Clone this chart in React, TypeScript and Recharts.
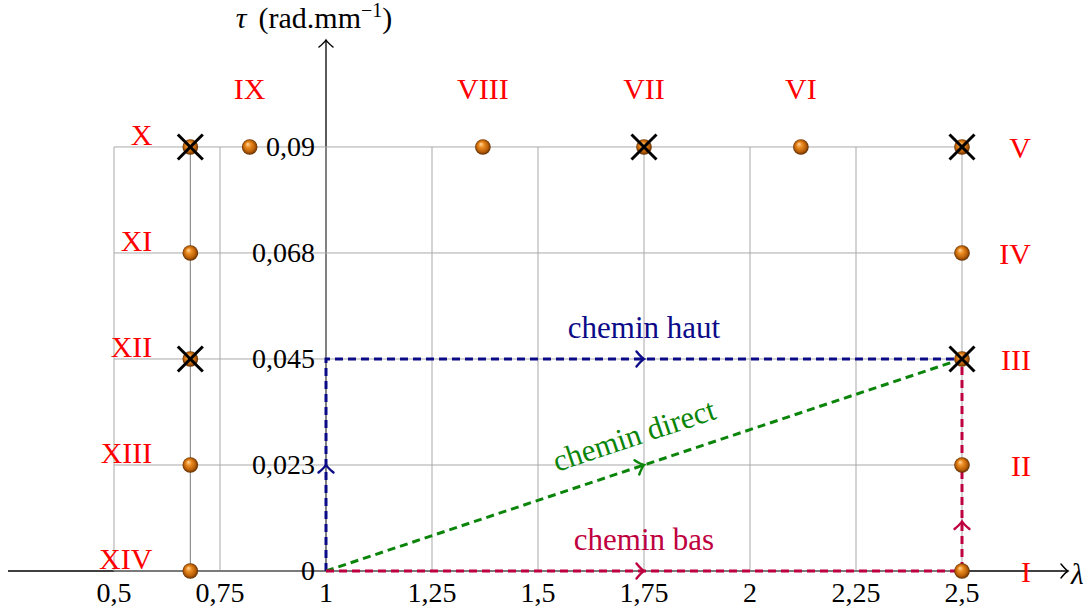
import React from 'react';
import { ComposedChart, XAxis, YAxis, Line, Scatter, ReferenceLine } from 'recharts';

// ---------- layout ----------
const W = 1091;
const H = 610;
const Y_AXIS_W = 8;
const MARGIN = { top: 40, right: 23, bottom: 0, left: 0 };
const X_AXIS_H = 39;
const X_DOMAIN: [number, number] = [0.25, 2.75];
const Y_DOMAIN: [number, number] = [0, 0.1127];
const PLOT_LEFT = MARGIN.left + Y_AXIS_W;
const PLOT_W = W - PLOT_LEFT - MARGIN.right;
const PLOT_H = H - MARGIN.top - MARGIN.bottom - X_AXIS_H;
const SX = PLOT_W / (X_DOMAIN[1] - X_DOMAIN[0]);
const SY = PLOT_H / (Y_DOMAIN[1] - Y_DOMAIN[0]);
const ORIGIN_PX = PLOT_LEFT + (1 - X_DOMAIN[0]) * SX;
const PLOT_BOTTOM = MARGIN.top + PLOT_H;

const FONT = '"Liberation Serif", "Times New Roman", serif';
const BLUE = '#0b0b88';
const GREEN = '#0a850a';
const PURPLE = '#bf0040';
const RED = '#ff0000';

// ---------- ticks ----------
const xTicks = [0.5, 0.75, 1, 1.25, 1.5, 1.75, 2, 2.25, 2.5];
const xTickLabels = ['0,5', '0,75', '1', '1,25', '1,5', '1,75', '2', '2,25', '2,5'];
const yTicks = [0, 0.0225, 0.045, 0.0675, 0.09];
const yTickLabels = ['0', '0,023', '0,045', '0,068', '0,09'];

// ---------- grid ----------
const gridLambda = [0.5, 0.75, 1, 1.25, 1.5, 1.75, 2, 2.25, 2.5];
const gridTau = [0, 0.0225, 0.045, 0.0675, 0.09];
const gridLambdaRange = [0.5, 2.5];
const gridTauRange = [0, 0.09];
const extraColumnLambda = 0.68;

// ---------- points ----------
const pointNames = ['I', 'II', 'III', 'IV', 'V', 'VI', 'VII', 'VIII', 'IX', 'X', 'XI', 'XII', 'XIII', 'XIV'];
const pointLambda = [2.5, 2.5, 2.5, 2.5, 2.5, 2.12, 1.75, 1.37, 0.82, 0.68, 0.68, 0.68, 0.68, 0.68];
const pointTau = [0, 0.0225, 0.045, 0.0675, 0.09, 0.09, 0.09, 0.09, 0.09, 0.09, 0.0675, 0.045, 0.0225, 0];
const crossedNames = ['III', 'V', 'VII', 'X', 'XII'];

// ---------- paths ----------
const hautLambda = [1, 1, 2.5];
const hautTau = [0, 0.045, 0.045];
const directLambda = [1, 2.5];
const directTau = [0, 0.045];
const basLambda = [1, 2.5, 2.5];
const basTau = [0, 0, 0.045];

const hautArrows = [
  { x: 1, y: 0.0225, dx: 0, dy: 1 },
  { x: 1.75, y: 0.045, dx: 1, dy: 0 },
];
const directArrows = [{ x: 1.75, y: 0.0225, dx: 1.5, dy: 0.045 }];
const basArrows = [
  { x: 1.75, y: 0, dx: 1, dy: 0 },
  { x: 2.5, y: 0.0105, dx: 0, dy: 1 },
];

const hautLabel = [{ x: 1.75, y: 0.045, dx: 1, dy: 0, text: 'chemin haut' }];
const directLabel = [{ x: 1.75, y: 0.0225, dx: 1.5, dy: 0.045, text: 'chemin direct' }];
const basLabel = [{ x: 1.75, y: 0, dx: 1, dy: 0, text: 'chemin bas' }];

const axisArrows = [
  { x: X_DOMAIN[1], y: 0, dx: 1, dy: 0 },
  { x: 1, y: Y_DOMAIN[1], dx: 0, dy: 1 },
];
const tauTitle = [{ x: 1, y: Y_DOMAIN[1] }];
const lambdaTitle = [{ x: X_DOMAIN[1], y: 0 }];

// ---------- derived tables ----------
const zip = (xs: number[], ys: number[]) => xs.map((x, i) => ({ x, y: ys[i] }));
const points = pointNames.map((name, i) => ({ name, x: pointLambda[i], y: pointTau[i] }));
const crossed = points.filter((p) => crossedNames.includes(p.name));
const hautData = zip(hautLambda, hautTau);
const directData = zip(directLambda, directTau);
const basData = zip(basLambda, basTau);
const leftCol = Math.min(...pointLambda);
const rightCol = Math.max(...pointLambda);

const angleOf = (dx: number, dy: number) => (Math.atan2(-dy * SY, dx * SX) * 180) / Math.PI;

// ---------- shapes ----------
const Ball = (p: any) => {
  const { cx, cy } = p;
  if (cx == null || cy == null) return null;
  return (
    <g>
      <defs>
        <radialGradient id="ballGrad" cx="0.5" cy="0.5" r="0.5" fx="0.36" fy="0.3">
          <stop offset="0%" stopColor="#ffd9a6" />
          <stop offset="35%" stopColor="#ec8d22" />
          <stop offset="75%" stopColor="#b85e08" />
          <stop offset="100%" stopColor="#5e2c00" />
        </radialGradient>
      </defs>
      <circle cx={cx} cy={cy} r={7.8} fill="url(#ballGrad)" />
    </g>
  );
};

const Cross = (p: any) => {
  const { cx, cy } = p;
  if (cx == null || cy == null) return null;
  const s = 12.5;
  return (
    <g stroke="#000" strokeWidth={3}>
      <line x1={cx - s} y1={cy - s} x2={cx + s} y2={cy + s} />
      <line x1={cx - s} y1={cy + s} x2={cx + s} y2={cy - s} />
    </g>
  );
};

const PointLabel = (p: any) => {
  const { cx, cy, payload } = p;
  if (cx == null || cy == null) return null;
  let x = cx;
  let y = cy - 48;
  let anchor: 'start' | 'middle' | 'end' = 'middle';
  if (payload.x >= rightCol) {
    x = cx + 69;
    y = cy + 11;
    anchor = 'end';
  } else if (payload.x <= leftCol) {
    x = cx - 38;
    y = cy - 2;
    anchor = 'end';
  }
  return (
    <text x={x} y={y} textAnchor={anchor} fill={RED} fontSize={30} fontFamily={FONT}>
      {payload.name}
    </text>
  );
};

const makeChevron = (color: string, size: number, width: number) => (p: any) => {
  const { cx, cy, payload } = p;
  if (cx == null || cy == null) return null;
  const a = angleOf(payload.dx, payload.dy);
  const s = size;
  return (
    <path
      d={`M ${-s} ${-s} Q ${-s * 0.35} ${-s * 0.2} 0 0 Q ${-s * 0.35} ${s * 0.2} ${-s} ${s}`}
      transform={`translate(${cx},${cy}) rotate(${a})`}
      stroke={color}
      strokeWidth={width}
      fill="none"
      strokeLinecap="round"
    />
  );
};

const makePathLabel = (color: string) => (p: any) => {
  const { cx, cy, payload } = p;
  if (cx == null || cy == null) return null;
  const a = angleOf(payload.dx, payload.dy);
  return (
    <text
      x={cx}
      y={cy - 21}
      transform={`rotate(${a}, ${cx}, ${cy})`}
      textAnchor="middle"
      fill={color}
      fontSize={31}
      fontFamily={FONT}
    >
      {payload.text}
    </text>
  );
};

const TauTitle = (p: any) => {
  const { cx, cy } = p;
  if (cx == null || cy == null) return null;
  return (
    <text x={cx - 12} y={cy - 12} textAnchor="middle" fontSize={30} fontFamily={FONT} fill="#000">
      <tspan fontStyle="italic">τ</tspan>
      <tspan dx={12}>(rad.mm</tspan>
      <tspan dy={-11} fontSize={20}>−1</tspan>
      <tspan dy={11}>)</tspan>
    </text>
  );
};

const LambdaTitle = (p: any) => {
  const { cx, cy } = p;
  if (cx == null || cy == null) return null;
  return (
    <text x={cx + 3} y={cy + 13} textAnchor="start" fontSize={29} fontStyle="italic" fontFamily={FONT} fill="#000">
      λ
    </text>
  );
};

const XTick = (p: any) => {
  const { x, payload } = p;
  const i = xTicks.indexOf(payload.value);
  return (
    <text x={x} y={PLOT_BOTTOM + 31} textAnchor="middle" fontSize={28} fontFamily={FONT} fill="#000">
      {xTickLabels[i]}
    </text>
  );
};

const YTick = (p: any) => {
  const { y, payload } = p;
  const i = yTicks.indexOf(payload.value);
  return (
    <text x={ORIGIN_PX - 11} y={y + 9} textAnchor="end" fontSize={28} fontFamily={FONT} fill="#000">
      {yTickLabels[i]}
    </text>
  );
};

export default function App() {
  return (
    <div style={{ position: 'absolute', left: 0, top: 0, width: W, height: H, background: '#fff' }}>
      <ComposedChart width={W} height={H} margin={MARGIN}>
        <XAxis
          type="number"
          dataKey="x"
          domain={X_DOMAIN}
          ticks={xTicks}
          interval={0}
          height={X_AXIS_H}
          axisLine={false}
          tickLine={false}
          tick={<XTick />}
        />
        <YAxis
          type="number"
          dataKey="y"
          domain={Y_DOMAIN}
          ticks={yTicks}
          interval={0}
          width={Y_AXIS_W}
          axisLine={false}
          tickLine={false}
          tick={<YTick />}
        />

        {/* main axes */}
        <ReferenceLine
          segment={[{ x: X_DOMAIN[0], y: 0 }, { x: X_DOMAIN[1], y: 0 }]}
          stroke="#000"
          strokeWidth={1.3}
          ifOverflow="visible"
        />
        <ReferenceLine
          segment={[{ x: 1, y: 0 }, { x: 1, y: Y_DOMAIN[1] }]}
          stroke="#000"
          strokeWidth={1.3}
          ifOverflow="visible"
        />

        {/* grid */}
        {gridLambda.map((l) => (
          <ReferenceLine
            key={'gx' + l}
            segment={[{ x: l, y: gridTauRange[0] }, { x: l, y: gridTauRange[1] }]}
            stroke="#a9a9a9"
            strokeWidth={1}
            ifOverflow="visible"
          />
        ))}
        <ReferenceLine
          segment={[{ x: extraColumnLambda, y: gridTauRange[0] }, { x: extraColumnLambda, y: gridTauRange[1] }]}
          stroke="#7a7a7a"
          strokeWidth={1}
          ifOverflow="visible"
        />
        {gridTau.map((t) => (
          <ReferenceLine
            key={'gy' + t}
            segment={[{ x: gridLambdaRange[0], y: t }, { x: gridLambdaRange[1], y: t }]}
            stroke={t === 0 ? '#7a7a7a' : '#a9a9a9'}
            strokeWidth={t === 0 ? 1.8 : 1}
            ifOverflow="visible"
          />
        ))}

        {/* paths */}
        <Line
          data={hautData}
          dataKey="y"
          type="linear"
          stroke={BLUE}
          strokeWidth={3}
          strokeDasharray="8 5"
          dot={false}
          activeDot={false}
          isAnimationActive={false}
          legendType="none"
        />
        <Line
          data={directData}
          dataKey="y"
          type="linear"
          stroke={GREEN}
          strokeWidth={3}
          strokeDasharray="8 5"
          dot={false}
          activeDot={false}
          isAnimationActive={false}
          legendType="none"
        />
        <Line
          data={basData}
          dataKey="y"
          type="linear"
          stroke={PURPLE}
          strokeWidth={3}
          strokeDasharray="8 5"
          dot={false}
          activeDot={false}
          isAnimationActive={false}
          legendType="none"
        />

        <Scatter data={hautArrows} shape={makeChevron(BLUE, 7.5, 2.4)} isAnimationActive={false} legendType="none" />
        <Scatter data={directArrows} shape={makeChevron(GREEN, 7.5, 2.4)} isAnimationActive={false} legendType="none" />
        <Scatter data={basArrows} shape={makeChevron(PURPLE, 7.5, 2.4)} isAnimationActive={false} legendType="none" />
        <Scatter data={axisArrows} shape={makeChevron('#000', 7, 1.5)} isAnimationActive={false} legendType="none" />

        <Scatter data={hautLabel} shape={makePathLabel(BLUE)} isAnimationActive={false} legendType="none" />
        <Scatter data={directLabel} shape={makePathLabel(GREEN)} isAnimationActive={false} legendType="none" />
        <Scatter data={basLabel} shape={makePathLabel(PURPLE)} isAnimationActive={false} legendType="none" />

        {/* points */}
        <Scatter data={points} shape={Ball} isAnimationActive={false} legendType="none" />
        <Scatter data={crossed} shape={Cross} isAnimationActive={false} legendType="none" />
        <Scatter data={points} shape={PointLabel} isAnimationActive={false} legendType="none" />

        <Scatter data={tauTitle} shape={TauTitle} isAnimationActive={false} legendType="none" />
        <Scatter data={lambdaTitle} shape={LambdaTitle} isAnimationActive={false} legendType="none" />
      </ComposedChart>
    </div>
  );
}
